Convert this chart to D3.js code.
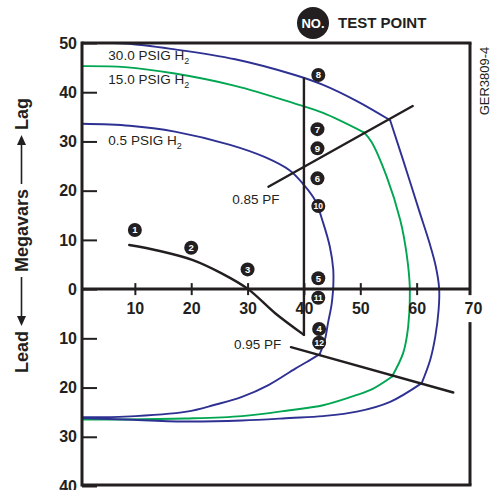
<!DOCTYPE html>
<html><head><meta charset="utf-8">
<script src="https://cdn.jsdelivr.net/npm/d3@7"></script>
<style>body{margin:0;background:#fff}svg{display:block}</style>
</head><body>
<svg id="c" width="491" height="490"></svg>
<script>
// ---- data (MW, Mvar) ----
const xTicks = [10,20,30,40,50,60,70];
const yTicks = [50,40,30,20,10,0,-10,-20,-30,-40];

const psig30Upper = [[0.6,50.0],[8.25,49.9],[17.1,48.7],[27.8,46.7],[38.4,43.5],[43.4,41.5],[49.4,38.2],[55.3,34.3]];
const psig30Mid   = [[55.3,34.3],[57.6,26.2],[60.4,16.1],[62.3,9.3],[63.4,4.6],[64.0,0.0],[63.9,-4.2],[63.3,-9.7],[62.4,-14.4],[60.9,-19.1]];
const psig30Lower = [[60.9,-19.1],[55.3,-22.9],[49.4,-24.9],[43.4,-25.8],[37.5,-26.2],[29.0,-26.7],[18.9,-26.9],[8.25,-26.5],[0.6,-26.2]];

const psig15Upper = [[0.6,45.3],[8.25,45.1],[17.1,43.8],[27.8,41.3],[38.4,37.7],[43.4,35.8],[50.7,31.8]];
const psig15Mid   = [[50.7,31.8],[52.0,29.9],[54.7,22.8],[57.1,14.0],[58.2,7.3],[58.8,0.0],[58.5,-7.6],[57.6,-13.0],[55.6,-17.8]];
const psig15Lower = [[55.6,-17.8],[52.3,-20.2],[49.4,-21.5],[43.4,-23.6],[37.5,-24.6],[29.0,-25.8],[18.9,-26.3],[8.25,-26.5],[0.6,-26.5]];

const psig05Upper = [[0.6,33.6],[9.1,33.2],[17.1,32.0],[26.9,29.3],[33.1,26.8],[37.5,24.1],[39.9,21.3],[42.0,18.0],[43.4,13.5],[44.6,8.6],[45.2,4.0],[45.2,0.2]];
const psig05Mid   = [[45.2,0.2],[44.9,-3.2],[44.3,-6.7],[43.7,-10.4],[42.8,-13.2]];
const psig05Lower = [[42.8,-13.2],[40.5,-14.8],[38.4,-16.2],[33.7,-19.5],[29.0,-21.9],[24.2,-23.5],[19.2,-24.9],[8.25,-25.9],[0.6,-26.0]];

const testCurve = [[9.0,8.95],[14.2,7.8],[20.3,5.9],[25.4,3.2],[30.1,0.0],[34.9,-4.9],[40.0,-9.3]];
const mw40Line  = [[40,42.8],[40,-9.3]];
const pf85Line  = [[33.7,20.8],[59.3,37.2]];
const pf95Line  = [[37.7,-11.8],[66.5,-21.0]];

const testIds = [1,2,3,4,5,6,7,8,9,10,11,12];
const testX   = [10.0,20.0,30.0,42.7,42.55,42.4,42.4,42.55,42.4,42.55,42.55,42.7];
const testY   = [12.0,8.4,4.0,-8.1,2.2,22.5,32.5,43.5,28.6,16.9,-1.75,-10.9];

// ---- drawing ----
const svg = d3.select('#c');
const ink = '#231f20', blue = '#2e3192', green = '#00a651';
const F = 'Liberation Sans, Arial, Helvetica, sans-serif';
const x = d3.scaleLinear().domain([0,70]).range([78.5,473]);
const y = d3.scaleLinear().domain([-40,50]).range([486,43]);
const L = 82, R = 470, T = 43, B = 485;

const smooth = d3.line().x(d=>x(d[0])).y(d=>y(d[1])).curve(d3.curveCatmullRom.alpha(0.5));
const straight = d3.line().x(d=>x(d[0])).y(d=>y(d[1]));

function path(data, color, w, gen){
  svg.append('path').attr('d',(gen||smooth)(data)).attr('fill','none')
    .attr('stroke',color).attr('stroke-width',w).attr('stroke-linejoin','round').attr('stroke-linecap','round');
}
[psig05Upper,psig05Mid,psig05Lower].forEach(d=>path(d,blue,1.9));
[psig15Upper,psig15Mid,psig15Lower].forEach(d=>path(d,green,1.9));
[psig30Upper,psig30Mid,psig30Lower].forEach(d=>path(d,blue,1.9));

path(testCurve, ink, 2.4);
path(mw40Line, ink, 2.4, straight);
path(pf85Line, ink, 2.4, straight);
path(pf95Line, ink, 2.4, straight);

// axes
const yAxis = d3.axisLeft(y).tickValues(yTicks).tickSize(-15).tickPadding(5).tickFormat(d=>Math.abs(d));
const gy = svg.append('g').attr('transform',`translate(${L},0)`).call(yAxis);
gy.select('.domain').remove();
gy.selectAll('.tick line').attr('stroke',ink).attr('stroke-width',2);
gy.selectAll('.tick text').attr('font-family',F).attr('font-weight','bold').attr('font-size',16).attr('fill',ink);

const xAxis = d3.axisBottom(x).tickValues(xTicks).tickSize(6).tickPadding(8);
const gx = svg.append('g').attr('transform',`translate(0,${y(0)})`).call(xAxis);
gx.select('.domain').remove();
gx.selectAll('.tick line').attr('y1',-6).attr('y2',6).attr('stroke',ink).attr('stroke-width',2);
gx.selectAll('.tick text').attr('font-family',F).attr('font-weight','bold').attr('font-size',16).attr('fill',ink);
gx.selectAll('.tick').filter(d=>d===70).select('line').remove();

// zero line & frame
const fr = svg.append('g').attr('stroke',ink).attr('stroke-width',3).attr('fill','none');
fr.append('line').attr('x1',L).attr('x2',R).attr('y1',y(0)).attr('y2',y(0));
fr.append('line').attr('x1',L).attr('x2',L).attr('y1',T-1.5).attr('y2',B+1.5);
fr.append('line').attr('x1',L).attr('x2',R+1.5).attr('y1',T).attr('y2',T);
fr.append('line').attr('x1',L).attr('x2',R+1.5).attr('y1',B).attr('y2',B);
fr.append('line').attr('x1',R).attr('x2',R).attr('y1',T).attr('y2',y(0)+6);
fr.append('line').attr('x1',R).attr('x2',R).attr('y1',y(0)+33).attr('y2',B);

// curve labels
function label(tx, ty, main, sub){
  const t = svg.append('text').attr('x',x(tx)).attr('y',y(ty)).attr('font-family',F)
    .attr('font-size',13.5).attr('fill',ink).text(main);
  if(sub) t.append('tspan').attr('font-size',9).attr('dy',4).text(sub);
}
label(5.3,46.5,'30.0 PSIG H','2');
label(5.3,41.6,'15.0 PSIG H','2');
label(5.3,29.3,'0.5 PSIG H','2');
label(27.3,17.3,'0.85 PF');
label(27.6,-12.2,'0.95 PF');

// test points
const tp = svg.append('g').selectAll('g').data(testIds).join('g')
  .attr('transform',(d,i)=>`translate(${x(testX[i])},${y(testY[i])})`);
tp.append('circle').attr('r',7).attr('fill',ink);
tp.append('text').attr('text-anchor','middle').attr('dy','0.36em').attr('font-family',F)
  .attr('font-weight','bold').attr('font-size',d=>d>9?8.5:9.5).attr('fill','#fff').text(d=>d);

// header
svg.append('circle').attr('cx',313).attr('cy',23).attr('r',16).attr('fill',ink);
svg.append('text').attr('x',313).attr('y',28).attr('text-anchor','middle').attr('font-family',F)
  .attr('font-weight','bold').attr('font-size',13).attr('fill','#fff').text('NO.');
svg.append('text').attr('x',338).attr('y',28).attr('font-family',F)
  .attr('font-weight','bold').attr('font-size',15).attr('fill',ink).text('TEST POINT');

// figure id
svg.append('text').attr('transform','translate(489,81) rotate(-90)').attr('text-anchor','middle')
  .attr('font-family',F).attr('font-size',13).attr('fill',ink).text('GER3809-4');

// y-axis title with arrows
const yl = svg.append('g').attr('transform','translate(28,235.5) rotate(-90)');
const parts = ['Lead','Megavars','Lag'];
const texts = parts.map(p=>yl.append('text').attr('font-family',F).attr('font-weight','bold')
  .attr('font-size',18).attr('fill',ink).text(p));
const widths = texts.map(t=>t.node().getComputedTextLength());
const total = 275, gap = 5;
const arrowLen = (total - d3.sum(widths) - 4*gap)/2;
let cx = -total/2;
function arrow(x0, x1){ // head at x1
  const dir = Math.sign(x1-x0);
  yl.append('line').attr('x1',x0).attr('x2',x1-dir*8).attr('y1',-6.5).attr('y2',-6.5)
    .attr('stroke',ink).attr('stroke-width',1.6);
  yl.append('path').attr('d',`M${x1},-6.5L${x1-dir*10},-11L${x1-dir*10},-2Z`).attr('fill',ink);
}
texts[0].attr('x',cx); cx += widths[0] + gap;
arrow(cx+arrowLen, cx); cx += arrowLen + gap;
texts[1].attr('x',cx); cx += widths[1] + gap;
arrow(cx, cx+arrowLen); cx += arrowLen + gap;
texts[2].attr('x',cx);
</script>
</body></html>
